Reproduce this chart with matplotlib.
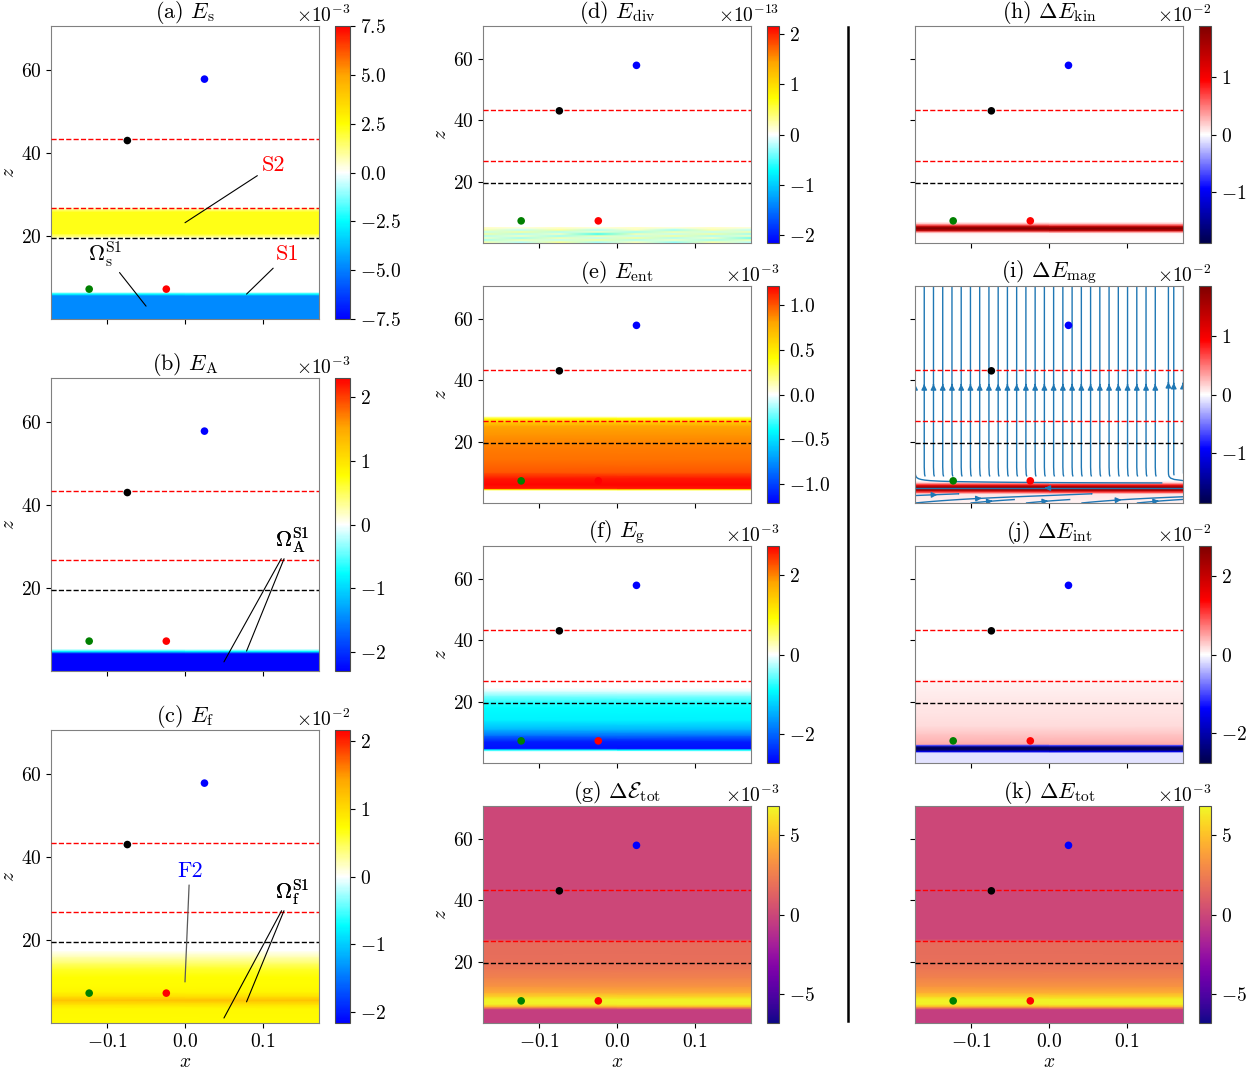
import numpy as np
import matplotlib
matplotlib.use("Agg")
import matplotlib.pyplot as plt
from matplotlib.colors import LinearSegmentedColormap
from matplotlib.ticker import ScalarFormatter
from matplotlib.lines import Line2D

plt.rcParams.update({
    "font.family": "serif",
    "font.serif": ["cmr10"],
    "mathtext.fontset": "cm",
    "axes.formatter.use_mathtext": True,
    "xtick.labelsize": 14,
    "ytick.labelsize": 14,
    "axes.titlesize": 16,
    "axes.labelsize": 14,
})

# points and reference lines (same in every panel)
pts_x = [0.025, -0.074, -0.123, -0.024]
pts_z = [57.8, 43.0, 7.2, 7.2]
pts_col = ["blue", "black", "green", "red"]
red_lines_z = [43.4, 26.8]
black_line_z = 19.5

x_ticks = [-0.1, 0.0, 0.1]
z_ticks = [20, 40, 60]

# vertical profiles: z knots and values (in units of the colorbar exponent)
z_a = [0, 5.6, 5.9, 6.1, 6.4, 6.6, 19.4, 19.8, 20.6, 25.8, 26.5, 27.0, 70.6]
val_a = [-4.8, -4.8, -3.2, -2.4, -0.8, 0, 0, 1.0, 2.3, 2.3, 1.0, 0, 0]

z_b = [0, 4.2, 4.5, 4.8, 5.1, 5.4, 70.6]
val_b = [-2.3, -2.3, -1.6, -0.8, -0.3, 0, 0]

z_c = [0, 3.5, 4.5, 5.5, 6.5, 7.5, 9, 11, 13, 14.5, 16, 17.5, 70.6]
val_c = [0.75, 0.78, 0.95, 1.2, 0.95, 0.8, 0.75, 0.72, 0.6, 0.4, 0.2, 0.0, 0]

# E_div: small noisy cells near the bottom (x nodes, z rows 0..5.2)
x_nodes_d = [-0.172, -0.123, -0.074, -0.025, 0.025, 0.074, 0.123, 0.172]
cells_d = [
    [0.25, -0.2, 0.3, -0.25, 0.2, -0.3, 0.25, -0.2],
    [-0.3, 0.25, -0.2, 0.3, -0.25, 0.2, -0.3, 0.25],
    [0.2, -0.3, 0.25, -0.2, 0.3, -0.25, 0.2, -0.45],
    [-0.25, 0.2, -0.3, 0.25, -0.2, 0.3, -0.25, 0.2],
    [0.3, -0.25, 0.2, -0.6, 0.25, -0.2, 0.3, -0.3],
    [-0.2, 0.3, -0.25, 0.2, -0.3, 0.25, -0.2, 0.25],
    [0.25, -0.2, 0.3, -0.25, 0.2, -0.3, 0.25, -0.2],
    [0.15, 0.1, 0.15, 0.1, 0.15, 0.1, 0.15, 0.1],
]

z_e = [0, 4.0, 4.4, 4.8, 6, 8, 10, 14, 18, 22, 25, 26.5, 27.5, 28.3, 70.6]
val_e = [0, 0, 0.4, 1.15, 1.2, 1.15, 1.0, 0.93, 0.9, 0.85, 0.8, 0.6, 0.4, 0, 0]

z_f = [0, 3.8, 4.3, 4.8, 7.0, 9.0, 11, 14, 18, 20, 22, 23.5, 24.5, 70.6]
val_f = [0, 0, -0.9, -2.6, -2.5, -1.9, -1.4, -1.0, -0.9, -0.75, -0.4, -0.1, 0, 0]

z_g = [0, 4.4, 4.9, 5.5, 6.2, 7.6, 8.6, 10, 12, 15, 18, 21, 26.4, 26.9, 27.4, 70.6]
val_g = [-0.4, -0.4, 2.0, 5.0, 6.5, 6.6, 5.6, 4.3, 3.3, 2.6, 2.1, 1.8, 1.7, 1.0, 0, 0]

z_h = [0, 3.2, 3.7, 4.2, 4.8, 5.4, 5.9, 6.5, 7.0, 70.6]
val_h = [0.0, 0.03, 0.5, 1.5, 1.9, 1.5, 0.6, 0.15, 0.0, 0.0]

z_i = [0, 3.0, 3.6, 4.2, 4.8, 5.4, 6.0, 6.6, 7.2, 70.6]
val_i = [0.05, 0.08, 0.7, 1.5, 1.85, 1.5, 0.8, 0.2, 0.0, 0.0]

z_j = [0, 3.3, 3.8, 4.3, 4.8, 5.3, 5.8, 6.2, 7.0, 9.5, 12, 16, 20, 26.5, 27.5, 70.6]
val_j = [-0.15, -0.15, -1.5, -2.5, -2.75, -2.4, -1.0, 0.45, 0.4, 0.3, 0.2, 0.15, 0.12, 0.06, 0.0, 0.0]

z_k = [0, 4.4, 4.9, 5.5, 6.2, 7.6, 8.6, 10, 12, 15, 18, 21, 26.4, 26.9, 27.4, 70.6]
val_k = [-0.4, -0.4, 2.0, 5.0, 6.5, 6.6, 5.6, 4.3, 3.3, 2.6, 2.1, 1.8, 1.7, 1.0, 0, 0]

# flow in (i): u, w on z = 0, 0.5, ..., 10 ; above that purely vertical
u_flow = [0.012, 0.012, 0.012, 0.012, 0.010, 0.005, 0.0, -0.008, -0.010, -0.010, -0.010,
          -0.010, -0.010, -0.010, -0.010, -0.008, -0.005, -0.002, -0.001, 0.0, 0.0]
w_flow = [0.3, 0.25, 0.2, 0.15, 0.1, 0.05, 0.0, 0.0, 0.0, 0.0, 0.0,
          0.0, 0.0, 0.0, 0.05, 0.3, 0.7, 1.0, 1.0, 1.0, 1.0]

XLIM = (-0.172, 0.172)
ZLIM = (0, 70.6)

bwr_jet = LinearSegmentedColormap.from_list(
    "bcwyor", ["blue", "#0080ff", "cyan", "white", "yellow", "orange", "red"], N=257)
seis = LinearSegmentedColormap.from_list(
    "seis", [(0, 0, 0.3), (0, 0, 1), (1, 1, 1), (1, 0, 0), (0.5, 0, 0)], N=257)

W, H = 1251, 1071
fig = plt.figure(figsize=(W / 100, H / 100), dpi=100)


def box(x, y, w, h):
    return [x / W, 1 - (y + h) / H, w / W, h / H]


def setup(ax, ylabels=True, xlabels=False):
    ax.set_xlim(*XLIM)
    ax.set_ylim(*ZLIM)
    ax.set_xticks(x_ticks)
    ax.set_yticks(z_ticks)
    for s in ax.spines.values():
        s.set_color("0.5")
    if ylabels:
        ax.set_ylabel("$z$", labelpad=2)
    else:
        ax.set_yticklabels([])
    if xlabels:
        ax.set_xticklabels(["$-0.1$", "$0.0$", "$0.1$"])
        ax.set_xlabel("$x$", labelpad=2)
    else:
        ax.set_xticklabels([])
    for zl in red_lines_z:
        ax.axhline(zl, color="red", ls="--", lw=1, zorder=3)
    ax.axhline(black_line_z, color="black", ls="--", lw=1, zorder=3)
    ax.scatter(pts_x, pts_z, c=pts_col, s=30, zorder=5, linewidths=0)


def profile(ax, z, vals, scale, cmap, vmax):
    C = np.outer(np.array(vals) * scale, [1, 1])
    return ax.pcolormesh(list(XLIM), z, C, shading="gouraud", cmap=cmap,
                         vmin=-vmax * scale, vmax=vmax * scale, zorder=1)


def cbar(mappable, cax, ticks, scale):
    cb = fig.colorbar(mappable, cax=cax)
    cb.set_ticks(np.array(ticks) * scale)
    fmt = ScalarFormatter(useMathText=True)
    fmt.set_powerlimits((0, 0))
    cb.ax.yaxis.set_major_formatter(fmt)
    cb.ax.yaxis.get_offset_text().set_fontsize(14)
    cb.outline.set_edgecolor("0.3")
    return cb


ann_line = dict(arrowstyle="-", color="black", lw=0.8, shrinkA=1, shrinkB=0)

# ---------------- left column ----------------
tops_left = [26, 378, 730]
axL = [fig.add_axes(box(51, t, 268, 293)) for t in tops_left]
caxL = [fig.add_axes(box(335, t, 15, 293)) for t in tops_left]

m = profile(axL[0], z_a, val_a, 1e-3, bwr_jet, 7.5)
setup(axL[0])
axL[0].set_title(r"(a) $E_\mathrm{s}$", pad=1)
cbar(m, caxL[0], [-7.5, -5.0, -2.5, 0.0, 2.5, 5.0, 7.5], 1e-3)
axL[0].annotate("S2", xy=(0.0, 23.2), xytext=(0.113, 37.0), color="red", fontsize=16,
                ha="center", va="center", arrowprops=ann_line, zorder=6)
axL[0].annotate("S1", xy=(0.079, 6.0), xytext=(0.131, 15.5), color="red", fontsize=16,
                ha="center", va="center", arrowprops=ann_line, zorder=6)
axL[0].annotate(r"$\Omega_\mathrm{s}^\mathrm{S1}$", xy=(-0.05, 3.1), xytext=(-0.103, 15.7),
                fontsize=16, ha="center", va="center", arrowprops=ann_line, zorder=6)

m = profile(axL[1], z_b, val_b, 1e-3, bwr_jet, 2.3)
setup(axL[1])
axL[1].set_title(r"(b) $E_\mathrm{A}$", pad=1)
cbar(m, caxL[1], [-2, -1, 0, 1, 2], 1e-3)
for tgt in [(0.05, 2.2), (0.079, 4.8)]:
    axL[1].annotate(r"$\Omega_\mathrm{A}^\mathrm{S1}$", xy=tgt, xytext=(0.137, 31.6),
                    fontsize=16, ha="center", va="center", arrowprops=ann_line, zorder=6)

m = profile(axL[2], z_c, val_c, 1e-2, bwr_jet, 2.17)
setup(axL[2], xlabels=True)
axL[2].set_title(r"(c) $E_\mathrm{f}$", pad=1)
cbar(m, caxL[2], [-2, -1, 0, 1, 2], 1e-2)
axL[2].annotate("F2", xy=(0.0, 9.9), xytext=(0.006, 36.6), color="blue", fontsize=16,
                ha="center", va="center",
                arrowprops=dict(arrowstyle="-", color="0.35", lw=0.9, shrinkA=1, shrinkB=0), zorder=6)
for tgt in [(0.05, 1.2), (0.079, 5.1)]:
    axL[2].annotate(r"$\Omega_\mathrm{f}^\mathrm{S1}$", xy=tgt, xytext=(0.137, 31.6),
                    fontsize=16, ha="center", va="center", arrowprops=ann_line, zorder=6)

# ---------------- middle column ----------------
tops = [26, 286, 546, 806]
axM = [fig.add_axes(box(483, t, 268, 217)) for t in tops]
caxM = [fig.add_axes(box(767, t, 12, 217)) for t in tops]

half = 0.0245
im = axM[0].imshow(np.array(cells_d) * 1e-13, origin="lower", aspect="auto", cmap=bwr_jet,
                   extent=[x_nodes_d[0] - half, x_nodes_d[-1] + half, 0, 5.2],
                   vmin=-2.15e-13, vmax=2.15e-13, interpolation="bilinear",
                   interpolation_stage="rgba", zorder=1)
setup(axM[0])
axM[0].set_title(r"(d) $E_\mathrm{div}$", pad=1)
cbar(im, caxM[0], [-2, -1, 0, 1, 2], 1e-13)

m = profile(axM[1], z_e, val_e, 1e-3, bwr_jet, 1.21)
setup(axM[1])
axM[1].set_title(r"(e) $E_\mathrm{ent}$", pad=1)
cbar(m, caxM[1], [-1.0, -0.5, 0.0, 0.5, 1.0], 1e-3)

m = profile(axM[2], z_f, val_f, 1e-3, bwr_jet, 2.72)
setup(axM[2])
axM[2].set_title(r"(f) $E_\mathrm{g}$", pad=1)
cbar(m, caxM[2], [-2, 0, 2], 1e-3)

m = profile(axM[3], z_g, val_g, 1e-3, "plasma", 6.8)
setup(axM[3], xlabels=True)
axM[3].set_title(r"(g) $\Delta\mathcal{E}_\mathrm{tot}$", pad=1)
cbar(m, caxM[3], [-5, 0, 5], 1e-3)

# ---------------- right column ----------------
axR = [fig.add_axes(box(915, t, 268, 217)) for t in tops]
caxR = [fig.add_axes(box(1199, t, 12, 217)) for t in tops]

m = profile(axR[0], z_h, val_h, 1e-2, seis, 1.9)
setup(axR[0], ylabels=False)
axR[0].set_title(r"(h) $\Delta E_\mathrm{kin}$", pad=1)
cbar(m, caxR[0], [-1, 0, 1], 1e-2)

m = profile(axR[1], z_i, val_i, 1e-2, seis, 1.85)
setup(axR[1], ylabels=False)
axR[1].set_title(r"(i) $\Delta E_\mathrm{mag}$", pad=1)
cbar(m, caxR[1], [-1, 0, 1], 1e-2)
zg = np.arange(0, 70.51, 0.5)
xg = np.linspace(XLIM[0], XLIM[1], 9)
u_col = np.concatenate([u_flow, np.zeros(len(zg) - len(u_flow))])
w_col = np.concatenate([w_flow, np.ones(len(zg) - len(w_flow))])
U = np.tile(u_col[:, None], (1, len(xg)))
Wv = np.tile(w_col[:, None], (1, len(xg)))
axR[1].streamplot(xg, zg, U, Wv, color="#1f77b4", linewidth=1, density=1,
                  arrowsize=0.8, zorder=2)
axR[1].set_xlim(*XLIM)
axR[1].set_ylim(*ZLIM)

m = profile(axR[2], z_j, val_j, 1e-2, seis, 2.75)
setup(axR[2], ylabels=False)
axR[2].set_title(r"(j) $\Delta E_\mathrm{int}$", pad=1)
cbar(m, caxR[2], [-2, 0, 2], 1e-2)

m = profile(axR[3], z_k, val_k, 1e-3, "plasma", 6.8)
setup(axR[3], ylabels=False, xlabels=True)
axR[3].set_title(r"(k) $\Delta E_\mathrm{tot}$", pad=1)
cbar(m, caxR[3], [-5, 0, 5], 1e-3)

# separator between the two groups
fig.add_artist(Line2D([848 / W, 848 / W], [1 - 27 / H, 1 - 1021 / H], color="black", lw=1.8))

fig.savefig("out.png", dpi=100)
